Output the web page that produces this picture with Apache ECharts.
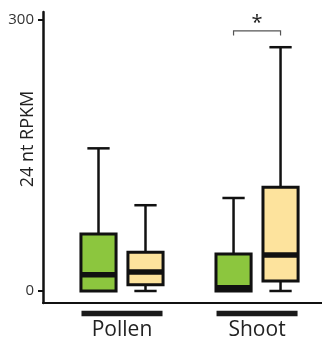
<!DOCTYPE html>
<html><head><meta charset="utf-8">
<script src="https://cdn.jsdelivr.net/npm/echarts@6/dist/echarts.min.js"></script>
<style>html,body{margin:0;padding:0;background:#fff}#c{width:322px;height:346px}</style>
</head><body><div id="c"></div>
<script>
// categories and box statistics: [min, Q1, median, Q3, max]
const categories = ['Pollen', 'Shoot'];
const greenStats = [[0, 0, 18, 63, 158], [0, 0, 3.5, 41, 103]];
const yellowStats = [[0, 7, 21, 43, 95], [0, 11, 40, 115, 270]];
const yTicks = [0, 300];
const sigLabel = '*';
const sigBracket = [288, 283]; // bracket top value, tick bottom value
const sigStarValue = 297;

const GREEN = '#8cc63e', YELLOW = '#fde39d';
const boxData = [];
categories.forEach((c, i) => {
  boxData.push([i + 1, -1].concat(greenStats[i]).concat([0]));
  boxData.push([i + 1, 1].concat(yellowStats[i]).concat([1]));
});

const chart = echarts.init(document.getElementById('c'), null, {renderer: 'canvas'});
const OFF = 0.174, BOXW = 0.26, CAPW = 0.165;

function boxRender(params, api) {
  const gx = api.value(0), side = api.value(1);
  const cx = gx + side * OFF;
  const vmin = api.value(2), q1 = api.value(3), med = api.value(4), q3 = api.value(5), vmax = api.value(6);
  const color = api.value(7) === 0 ? GREEN : YELLOW;
  const pL = api.coord([cx - BOXW / 2, q3]);
  const pR = api.coord([cx + BOXW / 2, q1]);
  const pC = api.coord([cx, vmax]);
  const pMin = api.coord([cx, vmin]);
  const pQ1 = api.coord([cx, q1]);
  const pQ3 = api.coord([cx, q3]);
  const pMed = api.coord([cx, med]);
  const capL = api.coord([cx - CAPW / 2, vmax])[0];
  const capR = api.coord([cx + CAPW / 2, vmax])[0];
  const children = [];
  const ls = {stroke: '#111', lineWidth: 2.5};
  if (vmax > q3) {
    children.push({type: 'line', shape: {x1: pC[0], y1: pC[1], x2: pQ3[0], y2: pQ3[1]}, style: ls});
    children.push({type: 'line', shape: {x1: capL, y1: pC[1], x2: capR, y2: pC[1]}, style: ls});
  }
  if (q1 > vmin) {
    children.push({type: 'line', shape: {x1: pQ1[0], y1: pQ1[1], x2: pMin[0], y2: pMin[1]}, style: ls});
    children.push({type: 'line', shape: {x1: capL, y1: pMin[1], x2: capR, y2: pMin[1]}, style: ls});
  }
  children.push({type: 'rect', shape: {x: pL[0], y: pL[1], width: pR[0] - pL[0], height: pR[1] - pL[1]},
    style: {fill: color, stroke: '#111', lineWidth: 3}});
  children.push({type: 'line', shape: {x1: pL[0] + 1, y1: pMed[1], x2: pR[0] - 1, y2: pMed[1]},
    style: {stroke: '#111', lineWidth: 5.5}});
  return {type: 'group', children: children};
}

function catBarRender(params, api) {
  const gx = api.value(0);
  const a = api.coord([gx - 0.3, -25]);
  const b = api.coord([gx + 0.3, -25]);
  return {type: 'line', shape: {x1: a[0], y1: a[1], x2: b[0], y2: b[1]}, style: {stroke: '#1a1a1a', lineWidth: 5.5}};
}

function sigRender(params, api) {
  const gx = api.value(0);
  const l = api.coord([gx - OFF, sigBracket[0]]);
  const r = api.coord([gx + OFF, sigBracket[0]]);
  const lb = api.coord([gx - OFF, sigBracket[1]]);
  const st = api.coord([gx, sigStarValue]);
  return {type: 'group', children: [
    {type: 'polyline', shape: {points: [[lb[0], lb[1]], [l[0], l[1]], [r[0], r[1]], [r[0], lb[1]]]},
      style: {stroke: '#555', lineWidth: 1.2, fill: null}},
    {type: 'text', x: st[0], y: st[1], style: {text: sigLabel, font: '20px "Open Sans"', fill: '#222', align: 'center', verticalAlign: 'middle'}}
  ]};
}

chart.setOption({
  animation: false,
  grid: {left: 43, right: 0, top: 12, height: 291},
  xAxis: {
    type: 'value', min: 0.415, max: 2.481,
    splitLine: {show: false},
    axisLine: {show: true, onZero: false, lineStyle: {color: '#111', width: 2}},
    axisTick: {show: false},
    axisLabel: {customValues: [1, 2], formatter: v => categories[Math.round(v) - 1],
      fontFamily: 'Open Sans', fontSize: 21, color: '#222', margin: 17}
  },
  yAxis: {
    type: 'value', min: -13.3, max: 309,
    splitLine: {show: false},
    axisLine: {show: true, lineStyle: {color: '#111', width: 2.5}},
    axisTick: {show: true, customValues: yTicks, length: 5, lineStyle: {color: '#111', width: 2}},
    axisLabel: {customValues: yTicks, fontFamily: 'Open Sans', fontSize: 15, color: '#333', margin: 9}
  },
  graphic: [{type: 'text', x: 28, y: 139, rotation: Math.PI / 2,
    style: {text: '24 nt RPKM', font: '18px "Open Sans"', fill: '#222', align: 'center', verticalAlign: 'middle'}}],
  series: [
    {type: 'custom', renderItem: boxRender, data: boxData, clip: false, encode: {x: 0, y: [2, 6]}},
    {type: 'custom', renderItem: catBarRender, data: categories.map((c, i) => [i + 1]), clip: false},
    {type: 'custom', renderItem: sigRender, data: [[2]], clip: false}
  ]
});
</script></body></html>
